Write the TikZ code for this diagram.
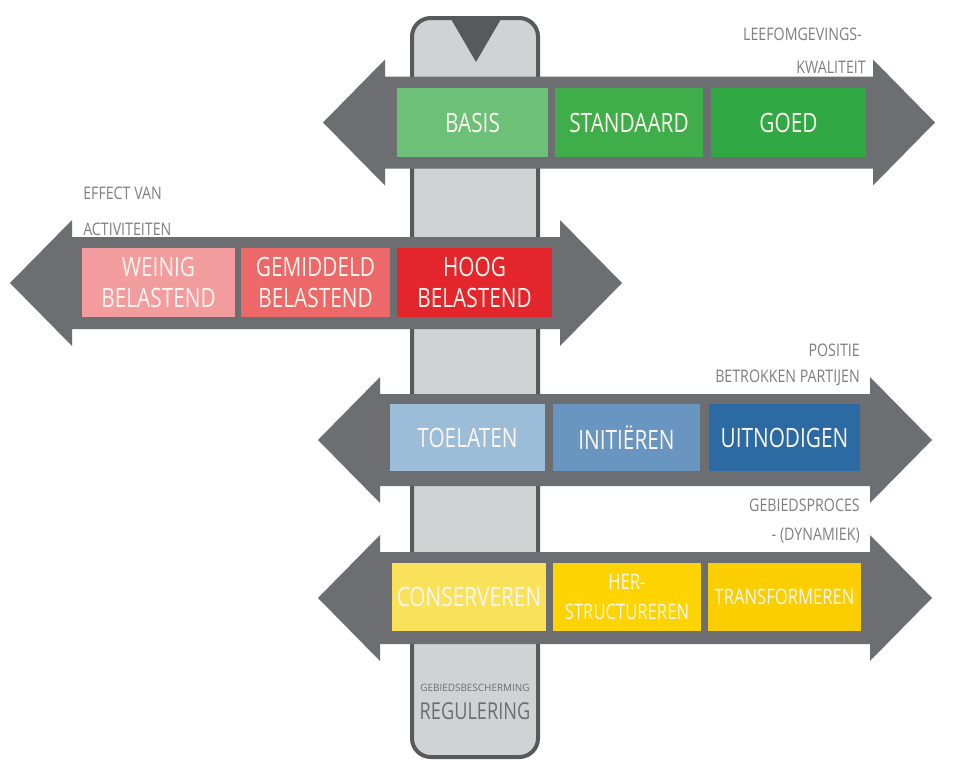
\documentclass[tikz,border=0pt]{standalone}
\usepackage{fontspec}
\usepackage{graphicx}
\setmainfont{Open Sans}[FakeStretch=0.78]
\newfontfamily\lblfont{Open Sans}[FakeStretch=0.82]
\definecolor{arrowgrey}{HTML}{6D6E71}
\definecolor{sliderfill}{HTML}{D1D2D4}
\definecolor{sliderline}{HTML}{58595B}
\definecolor{lblgrey}{HTML}{7F7F7F}
\definecolor{gA}{HTML}{6CC077}
\definecolor{gB}{HTML}{3FAE4A}
\definecolor{gC}{HTML}{30A843}
\definecolor{rA}{HTML}{F29C9E}
\definecolor{rB}{HTML}{EC6869}
\definecolor{rC}{HTML}{E2262B}
\definecolor{bA}{HTML}{9CBDD8}
\definecolor{bB}{HTML}{6896C0}
\definecolor{bC}{HTML}{2B6AA2}
\definecolor{yA}{HTML}{F9E25A}
\definecolor{yB}{HTML}{FDD400}
\definecolor{yC}{HTML}{FBCE00}
\definecolor{boxtext}{HTML}{FDF6F0}
\newcommand{\smallbox}{\fontsize{16}{21}\selectfont}
\tikzset{
  boxst/.style={rectangle, inner sep=0pt, text=boxtext, align=center,
    font=\fontsize{20}{23}\selectfont},
  lblst/.style={inner sep=0pt, text=lblgrey, font=\lblfont\fontsize{13}{15}\selectfont},
  arrowst/.style={fill=arrowgrey},
  sliderst/.style={fill=sliderfill, draw=sliderline, line width=3pt, rounded corners=14pt}
}
\newcommand{\bx}[7]{%
  \node[boxst, fill=#6, minimum width={(#3-#2)*0.75pt}, minimum height={(#5-#4)*0.75pt}]
    (#1) at ({(#2+#3)/2},{(#4+#5)/2}) {#7};}
\newcommand{\dblarrow}[3]{%
  \fill[arrowst] (#1,#3) -- ({#1+62},{#3-63}) -- ({#1+62},{#3-46}) -- ({#2-62},{#3-46})
    -- ({#2-62},{#3-63}) -- (#2,#3) -- ({#2-62},{#3+63}) -- ({#2-62},{#3+46})
    -- ({#1+62},{#3+46}) -- ({#1+62},{#3+63}) -- cycle;}
\begin{document}
\begin{tikzpicture}[x=0.75pt,y=-0.75pt]
\useasboundingbox[fill=white] (0,0) rectangle (965,775);
% slider
\draw[sliderst] (412,18) rectangle (538,757);
\fill[sliderline] (451,19) -- (501,19) -- (476,62) -- cycle;
\node[inner sep=0pt, text=arrowgrey] (slsmall) at (475,688)
  {\resizebox{82pt}{5.5pt}{GEBIEDSBESCHERMING}};
\node[inner sep=0pt, text=arrowgrey] (slbig) at (475,711)
  {\resizebox{83pt}{!}{REGULERING}};
% arrows
\dblarrow{323}{935}{122.5}
\dblarrow{10}{622}{283}
\dblarrow{318}{932}{440}
\dblarrow{318}{932}{598}
% boxes row 1
\bx{basis}{397}{548}{88}{157}{gA}{BASIS}
\bx{standaard}{555}{703}{88}{157}{gB}{STANDAARD}
\bx{goed}{711}{866}{88}{157}{gC}{GOED}
% row 2
\bx{weinig}{82}{235}{248}{317}{rA}{WEINIG\\BELASTEND}
\bx{gemiddeld}{241}{390}{248}{317}{rB}{GEMIDDELD\\BELASTEND}
\bx{hoog}{397}{552}{248}{317}{rC}{HOOG\\BELASTEND}
% row 3
\bx{toelaten}{390}{545}{404}{471}{bA}{TOELATEN}
\bx{initieren}{553}{700}{404}{471}{bB}{INITIËREN}
\bx{uitnodigen}{709}{860}{404}{471}{bC}{UITNODIGEN}
% row 4
\bx{conserveren}{392}{546}{563}{631}{yA}{CONSERVEREN}
\bx{herstructureren}{553}{701}{563}{631}{yB}{\smallbox HER-\\\smallbox STRUCTUREREN}
\bx{transformeren}{708}{861}{563}{631}{yC}{\smallbox TRANSFORMEREN}
% labels
\node[lblst, anchor=east] (l1a) at (862,34) {LEEFOMGEVINGS-};
\node[lblst, anchor=east] (l1b) at (866,67) {KWALITEIT};
\node[lblst, anchor=west] (l2a) at (83,193) {EFFECT VAN};
\node[lblst, anchor=west] (l2b) at (83,229) {ACTIVITEITEN};
\node[lblst, anchor=east] (l3a) at (860,350) {POSITIE};
\node[lblst, anchor=east] (l3b) at (860,378) {BETROKKEN PARTIJEN};
\node[lblst, anchor=east] (l4a) at (860,505) {GEBIEDSPROCES};
\node[lblst, anchor=east] (l4b) at (860,536) {- (DYNAMIEK)};
\end{tikzpicture}
\end{document}
